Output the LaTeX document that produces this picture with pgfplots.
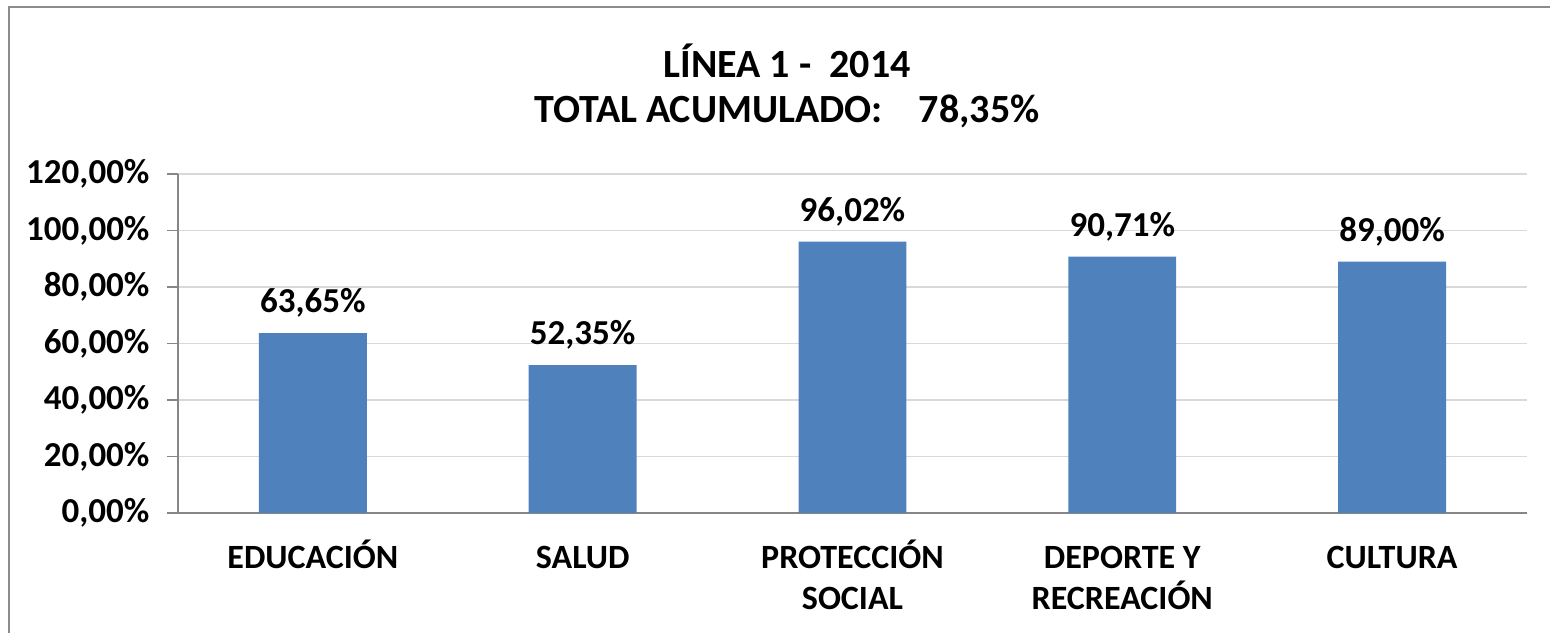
\documentclass[border=0pt]{standalone}
\usepackage{pgfplots}
\pgfplotsset{compat=1.18}
\usepackage{fontspec}
\setmainfont{Carlito}
\definecolor{barblue}{HTML}{4F81BD}
\definecolor{gridgray}{HTML}{D9D9D9}
\definecolor{axisgray}{HTML}{868686}
\definecolor{framegray}{HTML}{8C8C8C}
\begin{document}
\begin{tikzpicture}[x=1bp,y=1bp]
\useasboundingbox (0,0) rectangle (1550,633);
\draw[framegray,line width=2bp] (9,-5) -- (9,626) -- (1560,626);
\node[font=\bfseries\fontsize{40bp}{45bp}\selectfont,align=center] at (787,547) {LÍNEA 1 -\ \ 2014\\TOTAL ACUMULADO:\ \ \ \ 78,35\%};
\begin{axis}[
  at={(178bp,120bp)}, anchor=south west,
  scale only axis, width=1349bp, height=339bp,
  xmin=-0.5, xmax=4.5, ymin=0, ymax=120,
  axis x line*=bottom, axis y line*=left,
  axis line style={axisgray,line width=1.2bp,-},
  ytick={0,20,...,120},
  ymajorgrids, grid style={gridgray,line width=1.2bp},
  tick align=outside,
  major tick length=11bp,
  ytick style={axisgray,line width=1.2bp},
  xtick={0,1,2,3,4},
  xtick style={draw=none},
  minor xtick={-0.5,0.5,1.5,2.5,3.5,4.5},
  minor tick length=10bp,
  minor x tick style={axisgray,line width=1.2bp},
  xticklabels={\vphantom{ÓÉ}EDUCACIÓN,\vphantom{ÓÉ}SALUD,\vphantom{ÓÉ}PROTECCIÓN\\SOCIAL,\vphantom{ÓÉ}DEPORTE Y\\RECREACIÓN,\vphantom{ÓÉ}CULTURA},
  xticklabel style={font=\bfseries\fontsize{34bp}{41bp}\selectfont,align=center,yshift=-12bp},
  yticklabel style={font=\bfseries\fontsize{35bp}{38bp}\selectfont,xshift=-14bp},
  /pgf/number format/assume math mode=true,
  yticklabel={\pgfmathprintnumber[fixed,fixed zerofill,precision=2,use comma]{\tick}\%},
  bar width=0.4,
  nodes near coords={\pgfmathprintnumber[fixed,fixed zerofill,precision=2,use comma]{\pgfplotspointmeta}\%},
  nodes near coords style={font=\bfseries\fontsize{35bp}{40bp}\selectfont,black,yshift=12bp},
]
\addplot[ybar, fill=barblue, draw=none] coordinates {(0,63.65) (1,52.35) (2,96.02) (3,90.71) (4,89.00)};
\end{axis}
\end{tikzpicture}
\end{document}
